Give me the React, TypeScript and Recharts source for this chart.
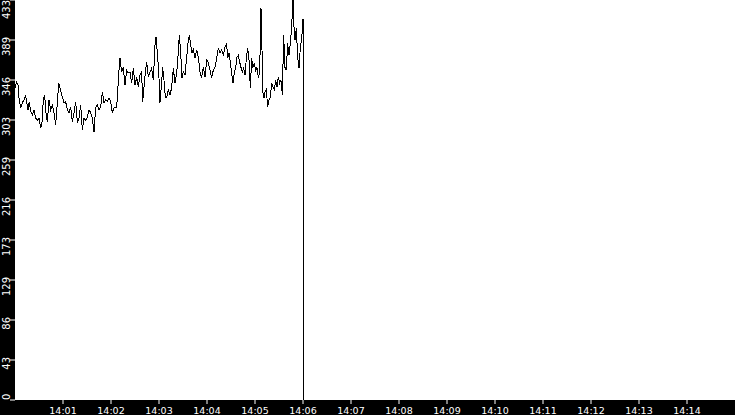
import React from 'react';
import { LineChart, Line, XAxis, YAxis, CartesianGrid } from 'recharts';

// [seconds after 14:00:00, value]
const readings: [number, number][] = [
  [0, 338], [2.1, 344], [3.75, 341], [5, 327], [7.1, 316], [9.2, 322], [11.25, 325], [13.3, 330], [14.6, 322], [16.25, 314],
  [17.9, 323], [19.6, 312], [21.7, 309], [23.75, 314], [25.8, 305], [27.9, 303], [30, 305], [32.1, 294], [33.75, 301], [35.4, 325],
  [37.1, 330], [38.75, 311], [40.4, 301], [42.5, 325], [44.6, 314], [46.7, 319], [48.75, 311], [50.8, 298], [52.9, 322], [54.6, 343],
  [56.25, 338], [57.9, 332], [59.6, 327], [61.25, 322], [63.3, 323], [65.4, 314], [67.5, 311], [69.6, 317], [71.7, 301], [73.75, 311],
  [75.8, 323], [77.9, 301], [80, 305], [82.1, 319], [84.2, 292], [86.25, 305], [88.3, 303], [90.4, 306], [92.5, 314], [94.6, 311],
  [96.7, 305], [98.75, 290], [100.8, 317], [102.9, 319], [105, 314], [107.1, 317], [109.2, 333], [111.25, 322], [113.3, 325], [115.4, 323],
  [117.5, 327], [119.6, 323], [121.7, 311], [123.75, 316],
  [127.1, 317], [128.3, 333], [130, 357], [131.25, 370], [133.3, 355], [135.4, 360], [137.5, 341], [139.6, 357], [141.7, 354], [143.75, 355],
  [145.8, 343], [147.9, 359], [150, 341], [152.1, 349], [154.2, 339], [156.25, 352], [158.3, 355], [159.6, 323], [161.25, 339], [162.9, 354],
  [164.6, 366], [166.7, 350], [168.75, 355], [170.8, 359], [172.9, 346], [175, 384], [176.25, 393], [177.9, 376], [179.6, 357], [181.25, 322],
  [182.9, 339], [184.6, 360], [186.25, 346], [187.9, 328], [189.6, 327], [191.7, 336], [193.75, 330], [195.8, 338], [197.9, 359], [200, 343],
  [202.1, 354], [204.2, 377], [205.4, 395], [207.1, 376], [208.75, 349], [210.4, 355], [212.5, 352], [214.6, 371], [216.7, 390], [217.9, 395],
  [219.6, 384], [221.25, 376], [222.9, 379], [225, 370], [227.1, 379], [229.2, 371], [231.25, 355], [233.3, 349], [235.4, 360], [237.5, 350],
  [239.6, 368], [241.7, 365], [243.75, 357],
  [245.8, 349], [247.9, 357], [250, 360], [252.1, 370], [254.2, 381], [256.25, 376], [258.3, 379], [260.4, 373], [262.5, 382], [264.6, 386],
  [265.8, 370], [267.5, 376], [269.2, 366], [270.8, 354], [272.5, 343], [274.2, 355], [275.8, 359], [277.5, 371], [279.2, 373], [280.8, 366],
  [282.5, 360], [284.2, 355], [285.8, 359], [287.5, 352], [289.2, 370], [290.8, 381], [292.5, 368], [294.2, 338], [295.8, 370], [297.5, 360],
  [299.2, 365], [300.8, 357], [302.5, 360], [304.2, 349], [305.8, 354], [307.5, 424], [308.75, 379], [310, 332], [311.25, 327], [312.5, 333],
  [314.2, 336], [315.8, 317], [317.5, 325], [319.2, 328], [320.8, 343], [322.5, 339], [324.2, 336], [325.8, 346], [327.5, 339], [329.2, 350],
  [330.8, 343], [332.5, 346], [334.2, 330], [335.8, 395], [337.5, 360], [339.2, 357], [340.8, 386], [342.5, 373], [344.2, 386], [345.8, 404],
  [347.5, 433], [348.75, 404], [350, 390], [351.7, 403], [353.3, 371], [355, 359], [356.7, 382], [358.3, 390], [360, 412], [360.3, 207],
  [361, 0],
];

const xTickSeconds = [60, 120, 180, 240, 300, 360, 420, 480, 540, 600, 660, 720, 780, 840];
const xTickLabels = ['14:01', '14:02', '14:03', '14:04', '14:05', '14:06', '14:07', '14:08', '14:09', '14:10', '14:11', '14:12', '14:13', '14:14'];
const yTickValues = [0, 43.3, 86.6, 129.9, 173.2, 216.5, 259.8, 303.1, 346.4, 389.7, 433];
const yTickLabels = ['0', '43', '86', '129', '173', '216', '259', '303', '346', '389', '433'];

const data = readings.map(([t, v]) => ({ t, v }));

const FONT = 'DejaVu Sans';

function YTick(props: any) {
  const { y, payload } = props;
  const i = yTickValues.indexOf(payload.value);
  const label = i >= 0 ? yTickLabels[i] : String(Math.floor(payload.value));
  const isZero = i === 0;
  const isTop = i === yTickValues.length - 1;
  const bx = 10;
  const ay = isZero ? y : isTop ? y : y - 3;
  return (
    <text
      x={bx}
      y={ay}
      transform={`rotate(-90, ${bx}, ${ay})`}
      textAnchor={isZero ? 'start' : 'end'}
      fill="#fff"
      fontSize={10}
      fontFamily={FONT}
    >
      {label}
    </text>
  );
}

export default function App() {
  return (
    <div style={{ position: 'absolute', left: 0, top: 0, width: 735, height: 415, background: '#000' }}>
      <LineChart width={735} height={415} data={data} margin={{ top: 0, right: 0, bottom: 0, left: 0 }}>
        <CartesianGrid fill="#fff" fillOpacity={1} horizontal={false} vertical={false} stroke="none" />
        <XAxis
          dataKey="t"
          type="number"
          domain={[0, 900]}
          ticks={xTickSeconds}
          interval={0}
          allowDataOverflow
          tickFormatter={(v: number) => xTickLabels[xTickSeconds.indexOf(v)]}
          tick={{ fill: '#fff', fontSize: 9.5, fontFamily: FONT }}
          tickLine={{ stroke: '#fff' }}
          tickSize={4}
          tickMargin={3}
          axisLine={false}
          height={15}
        />
        <YAxis
          type="number"
          domain={[0, 433]}
          ticks={yTickValues}
          interval={0}
          allowDataOverflow
          tick={<YTick />}
          tickLine={{ stroke: '#fff' }}
          tickSize={5}
          axisLine={false}
          width={15}
        />
        <Line
          type="linear"
          dataKey="v"
          stroke="#000"
          strokeWidth={1}
          dot={false}
          activeDot={false}
          isAnimationActive={false}
          shapeRendering="crispEdges"
        />
      </LineChart>
    </div>
  );
}
